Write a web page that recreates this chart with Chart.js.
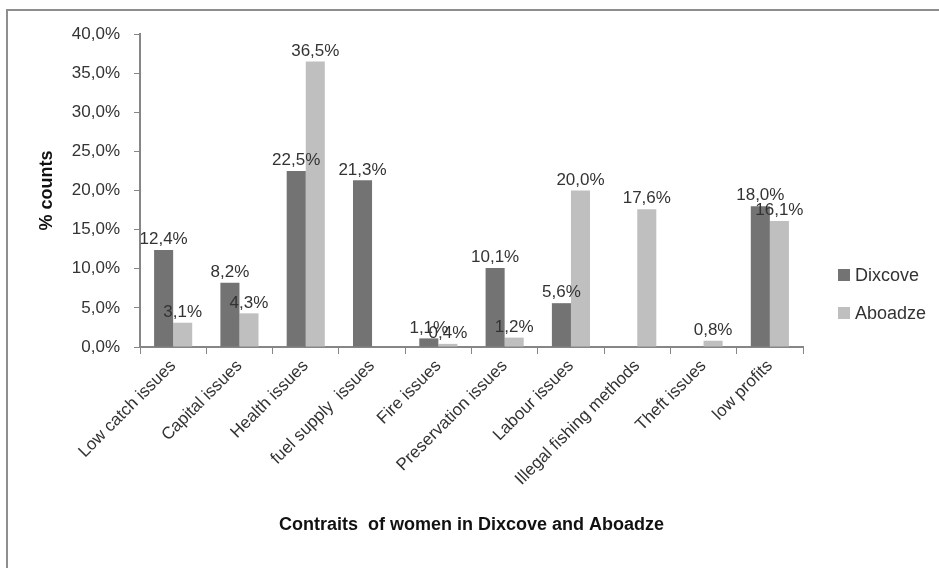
<!DOCTYPE html>
<html>
<head>
<meta charset="utf-8">
<script src="https://cdn.jsdelivr.net/npm/chart.js@4"></script>
<style>
  html, body { margin: 0; padding: 0; background: #fff; }
  #wrap { position: relative; width: 939px; height: 568px; overflow: hidden; }
  #frame { position: absolute; left: 6px; top: 9px; width: 950px; height: 580px;
           border: 2px solid #8e8e8e; box-sizing: border-box; pointer-events: none; }
</style>
</head>
<body>
<div id="wrap">
  <canvas id="chart" width="939" height="568"></canvas>
  <div id="frame"></div>
</div>
<script>
// datos
const categorias = ["Low catch issues", "Capital issues", "Health issues", "fuel supply  issues",
  "Fire issues", "Preservation issues", "Labour issues", "Illegal fishing methods",
  "Theft issues", "low profits"];
const dixcove = [12.4, 8.2, 22.5, 21.3, 1.1, 10.1, 5.6, null, null, 18.0];
const aboadze = [3.1, 4.3, 36.5, null, 0.4, 1.2, 20.0, 17.6, 0.8, 16.1];
const series = ["Dixcove", "Aboadze"];
const colores = ["#737373", "#bfbfbf"];

const FONT = "'Liberation Sans', Arial, sans-serif";
const TXT = "#333333";
const EJE = "#868686";

const fmt = v => v.toFixed(1).replace('.', ',') + '%';

// etiquetas encima de cada barra
const etiquetas = {
  id: 'etiquetas',
  afterDatasetsDraw(chart) {
    const ctx = chart.ctx;
    ctx.save();
    ctx.font = "17px " + FONT;
    ctx.fillStyle = TXT;
    ctx.textAlign = 'center';
    ctx.textBaseline = 'bottom';
    chart.data.datasets.forEach((ds, i) => {
      chart.getDatasetMeta(i).data.forEach((bar, j) => {
        const v = ds.data[j];
        if (v === null) return;
        ctx.fillText(fmt(v), bar.x, bar.y - 2);
      });
    });
    ctx.restore();
  }
};

// leyenda a la derecha
const leyenda = {
  id: 'leyenda',
  afterDraw(chart) {
    const ctx = chart.ctx;
    const x = chart.chartArea.right + 35;
    ctx.save();
    ctx.font = "18px " + FONT;
    ctx.textBaseline = 'middle';
    series.forEach((s, i) => {
      const y = 275 + i * 38;
      ctx.fillStyle = colores[i];
      ctx.fillRect(x, y - 6, 12, 12);
      ctx.fillStyle = TXT;
      ctx.fillText(s, x + 17, y + 1);
    });
    ctx.restore();
  }
};

new Chart(document.getElementById('chart'), {
  type: 'bar',
  data: {
    labels: categorias,
    datasets: [
      { label: series[0], data: dixcove, backgroundColor: colores[0] },
      { label: series[1], data: aboadze, backgroundColor: colores[1] }
    ]
  },
  options: {
    responsive: false,
    animation: false,
    categoryPercentage: 0.575,
    barPercentage: 1,
    layout: { padding: { left: 30, top: 34, right: 136, bottom: 20 } },
    plugins: { legend: { display: false }, tooltip: { enabled: false } },
    scales: {
      x: {
        grid: { offset: true, drawOnChartArea: false, color: EJE, tickLength: 7, tickColor: EJE },
        border: { color: EJE, width: 2 },
        ticks: { color: TXT, font: { family: FONT, size: 17 }, minRotation: 45, maxRotation: 45, autoSkip: false, padding: 2 },
        title: { display: true, text: 'Contraits  of women in Dixcove and Aboadze', color: '#111',
                 font: { family: FONT, size: 18, weight: 'bold' }, padding: { top: 0, bottom: 12 } },
        afterFit: s => { s.height = 568 - 347 - 20; }
      },
      y: {
        min: 0, max: 40,
        grid: { drawOnChartArea: false, color: EJE, tickLength: 6, tickColor: EJE },
        border: { color: EJE, width: 2 },
        ticks: { stepSize: 5, color: TXT, font: { family: FONT, size: 17 }, padding: 14,
                 callback: v => fmt(v) },
        title: { display: true, text: '% counts', color: '#111',
                 font: { family: FONT, size: 18, weight: 'bold' }, padding: { top: 6, bottom: 0 } },
        afterFit: s => { s.width = 140 - 30; }
      }
    }
  },
  plugins: [etiquetas, leyenda]
});
</script>
</body>
</html>
